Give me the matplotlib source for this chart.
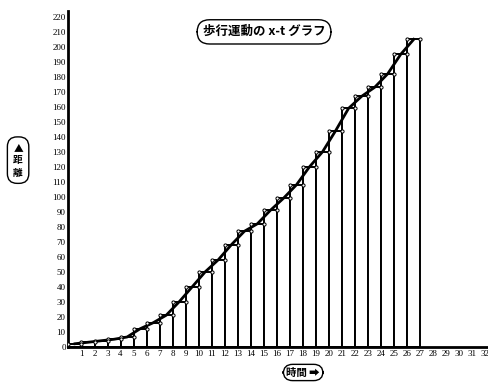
import numpy as np
import matplotlib.pyplot as plt

plt.rcParams['font.family'] = ['Noto Sans CJK JP', 'DejaVu Sans']

# time step (right edge of each bar) and distance
t = np.arange(1, 28)
dist = [2, 3, 4, 5, 6.5, 12, 16, 21, 30, 40, 50, 58, 68, 77, 82,
        91, 99, 108, 120, 130, 144, 159, 167, 173, 182, 195, 205]
x_ticks = np.arange(1, 33)
y_ticks = np.arange(0, 221, 10)

title = "歩行運動の x-t グラフ"
ylabel = "▲\n距\n離"
xlabel = "時間 ➡"

fig = plt.figure(figsize=(4.89, 3.84), dpi=100, facecolor='white')
ax = fig.add_axes([0.140, 0.097, 0.858, 0.874])

dist = np.array(dist)
ax.bar(t - 1, dist, width=1.0, align='edge', color='white',
       edgecolor='black', linewidth=1.4, zorder=2)
ax.plot(t - 0.5, dist, color='black', lw=2.0, zorder=3)
# small open marks on the corners of each bar top
ax.plot(np.concatenate([t - 1, t]), np.concatenate([dist, dist]), ls='none',
        marker='o', ms=2.3, mfc='white', mec='black', mew=0.7, zorder=4)

ax.set_xlim(0, 32.2)
ax.set_ylim(0, 223.8)
ax.set_xticks(x_ticks)
ax.set_yticks(y_ticks)
ax.set_xticklabels([str(v) for v in x_ticks], family='Liberation Serif', fontsize=6.5)
ax.set_yticklabels([str(v) for v in y_ticks], family='Liberation Serif', fontsize=6.5)
ax.tick_params(length=0, pad=2)
for s in ['top', 'right']:
    ax.spines[s].set_visible(False)
ax.spines['left'].set_linewidth(2)
ax.spines['bottom'].set_linewidth(2)

fig.text(0.540, 0.917, title, ha='center', va='center', fontsize=9, fontweight='bold',
         bbox=dict(boxstyle='round,pad=0.45,rounding_size=1.0', fc='white', ec='black', lw=1))
fig.text(0.037, 0.583, ylabel, ha='center', va='center', fontsize=7, fontweight='bold',
         linespacing=1.3,
         bbox=dict(boxstyle='round,pad=0.6,rounding_size=1.0', fc='white', ec='black', lw=1))
fig.text(0.620, 0.030, xlabel, ha='center', va='center', fontsize=7.5, fontweight='bold',
         bbox=dict(boxstyle='round,pad=0.3,rounding_size=0.9', fc='white', ec='black', lw=1))

fig.savefig('out.png', dpi=100)
